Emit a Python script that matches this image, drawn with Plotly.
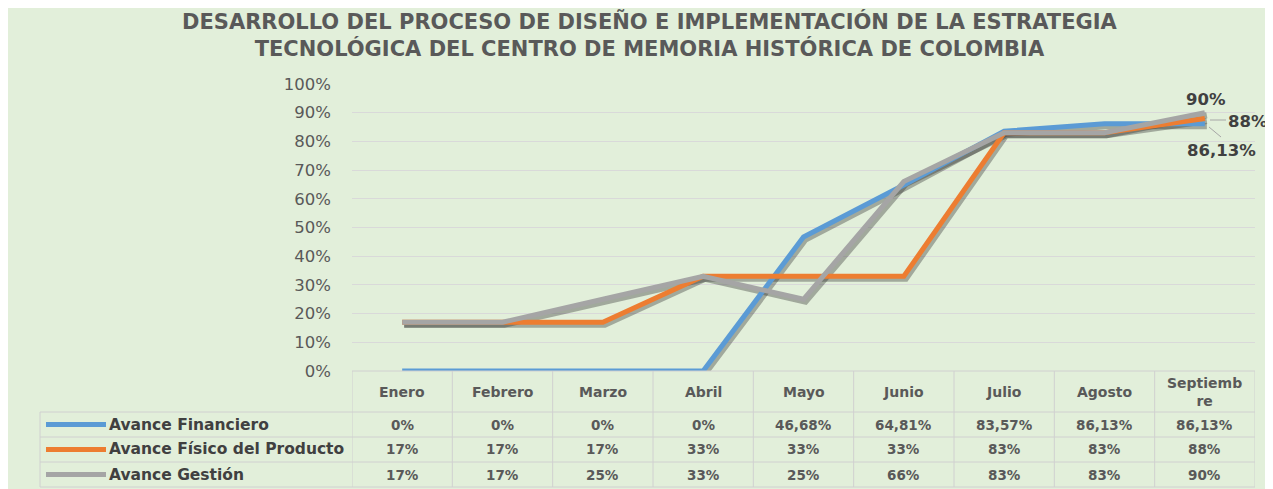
import plotly.graph_objects as go

# ---------------- data ----------------
months = ["Enero", "Febrero", "Marzo", "Abril", "Mayo", "Junio", "Julio", "Agosto", "Septiembre"]
header_labels = ["Enero", "Febrero", "Marzo", "Abril", "Mayo", "Junio", "Julio", "Agosto", "Septiemb<br>re"]
avance_financiero = [0, 0, 0, 0, 46.68, 64.81, 83.57, 86.13, 86.13]
avance_fisico = [17, 17, 17, 33, 33, 33, 83, 83, 88]
avance_gestion = [17, 17, 25, 33, 25, 66, 83, 83, 90]
series_names = ["Avance Financiero", "Avance Físico del Producto", "Avance Gestión"]
series_values = [avance_financiero, avance_fisico, avance_gestion]
series_colors = ["#5B9BD5", "#ED7D31", "#A5A5A5"]
title_text = ("DESARROLLO DEL PROCESO DE DISEÑO E IMPLEMENTACIÓN DE LA ESTRATEGIA<br>"
              "TECNOLÓGICA DEL CENTRO DE MEMORIA HISTÓRICA DE COLOMBIA")

# ---------------- geometry helpers (page pixel coords; figure sits at 8px body margin) ----------------
OFF = 8
W, H = 1273, 489
L = 352 - OFF
T = 84 - OFF
PLOT_BOTTOM = 371 - OFF
PLOT_RIGHT = 1255 - OFF
R = W - PLOT_RIGHT
B = H - PLOT_BOTTOM
PW, PH = W - L - R, H - T - B


def px2x(X):
    return (X - OFF - L) / PW


def py2y(Y):
    return (PLOT_BOTTOM - (Y - OFF)) / PH


def fmt(v):
    if abs(v - round(v)) < 1e-9:
        return f"{int(round(v))}%"
    return f"{v:.2f}".replace(".", ",") + "%"


BG = "#E2EFDA"
GRID = "#D9D9D9"
TXT = "#595959"
FONT = "DejaVu Sans"

xs = list(range(len(months)))
fig = go.Figure()

# shadows
cat_px = PW / len(months)
dx = 2.0 / cat_px
dy = 2.5 / PH
for vals in series_values:
    fig.add_trace(go.Scatter(
        x=[i + dx for i in xs], y=[v / 100 - dy for v in vals], mode="lines",
        line=dict(color="rgba(40,40,40,0.35)", width=6),
        hoverinfo="skip", showlegend=False))

for name, vals, col in zip(series_names, series_values, series_colors):
    fig.add_trace(go.Scatter(
        x=xs, y=[v / 100 for v in vals], mode="lines", name=name,
        line=dict(color=col, width=5), showlegend=False))

shapes = []
annotations = []

# title
annotations.append(dict(
    text=f"<b>{title_text}</b>", xref="paper", yref="paper",
    x=px2x(650), y=py2y(35), xanchor="center", yanchor="middle",
    showarrow=False, font=dict(family=FONT, size=21, color=TXT)))

# data table
TB_COLOR = "#D0D0D0"
row_lines = [412, 437, 462, 487]
shapes.append(dict(type="line", xref="paper", yref="paper", x0=0, x1=1,
                   y0=py2y(371), y1=py2y(371), line=dict(color=TB_COLOR, width=1)))
for Y in row_lines:
    shapes.append(dict(type="line", xref="paper", yref="paper", x0=px2x(40), x1=1,
                       y0=py2y(Y), y1=py2y(Y), line=dict(color=TB_COLOR, width=1)))
for i in range(len(months) + 1):
    shapes.append(dict(type="line", xref="x", yref="paper", x0=i - 0.5, x1=i - 0.5,
                       y0=py2y(371), y1=py2y(487), line=dict(color=TB_COLOR, width=1)))
shapes.append(dict(type="line", xref="paper", yref="paper", x0=px2x(40), x1=px2x(40),
                   y0=py2y(412), y1=py2y(487), line=dict(color=TB_COLOR, width=1)))

for i, lab in enumerate(header_labels):
    annotations.append(dict(text=f"<b>{lab}</b>", xref="x", yref="paper", x=i, y=py2y(392),
                            showarrow=False, xanchor="center", yanchor="middle",
                            font=dict(family=FONT, size=14, color=TXT)))

row_centers = [424.5, 449.5, 474.5]
for name, vals, col, yc in zip(series_names, series_values, series_colors, row_centers):
    shapes.append(dict(type="line", xref="paper", yref="paper", x0=px2x(46), x1=px2x(106),
                       y0=py2y(yc), y1=py2y(yc), line=dict(color=col, width=5)))
    annotations.append(dict(text=f"<b>{name}</b>", xref="paper", yref="paper",
                            x=px2x(107), y=py2y(yc), xanchor="left", yanchor="middle",
                            showarrow=False, font=dict(family=FONT, size=15.5, color="#404040")))
    for i, v in enumerate(vals):
        annotations.append(dict(text=f"<b>{fmt(v)}</b>", xref="x", yref="paper", x=i, y=py2y(yc),
                                showarrow=False, xanchor="center", yanchor="middle",
                                font=dict(family=FONT, size=13.5, color=TXT)))

# end-point data labels
last = len(months) - 1
lab_font = dict(family=FONT, size=16.5, color="#404040")
annotations.append(dict(text=f"<b>{fmt(avance_gestion[last])}</b>", xref="x", yref="y",
                        x=last, y=avance_gestion[last] / 100, xshift=1, yshift=13,
                        showarrow=False, font=lab_font))
annotations.append(dict(text=f"<b>{fmt(avance_fisico[last])}</b>", xref="x", yref="y",
                        x=last, y=avance_fisico[last] / 100, xshift=43, yshift=-3,
                        showarrow=False, font=lab_font))
annotations.append(dict(text=f"<b>{fmt(avance_financiero[last])}</b>", xref="x", yref="y",
                        x=last, y=avance_financiero[last] / 100, xshift=17, yshift=-27,
                        showarrow=False, font=lab_font))
# leader lines
shapes.append(dict(type="line", xref="paper", yref="paper", x0=px2x(1210), x1=px2x(1226),
                   y0=py2y(120), y1=py2y(120), line=dict(color="#A6A6A6", width=1)))
shapes.append(dict(type="line", xref="paper", yref="paper", x0=px2x(1209), x1=px2x(1221),
                   y0=py2y(127), y1=py2y(137), line=dict(color="#A6A6A6", width=1)))

fig.update_layout(
    width=W, height=H,
    margin=dict(l=L, r=R, t=T, b=B),
    paper_bgcolor=BG, plot_bgcolor=BG,
    showlegend=False,
    shapes=shapes, annotations=annotations,
    xaxis=dict(range=[-0.5, len(months) - 0.5], showticklabels=False, showgrid=False,
               zeroline=False, showline=False, fixedrange=True),
    yaxis=dict(range=[0, 1], dtick=0.1, tickformat=".0%", gridcolor=GRID, gridwidth=1,
               zeroline=False, showline=False, ticklabelstandoff=20,
               tickfont=dict(family=FONT, size=16.5, color=TXT)),
)

fig.write_html("out.html")
